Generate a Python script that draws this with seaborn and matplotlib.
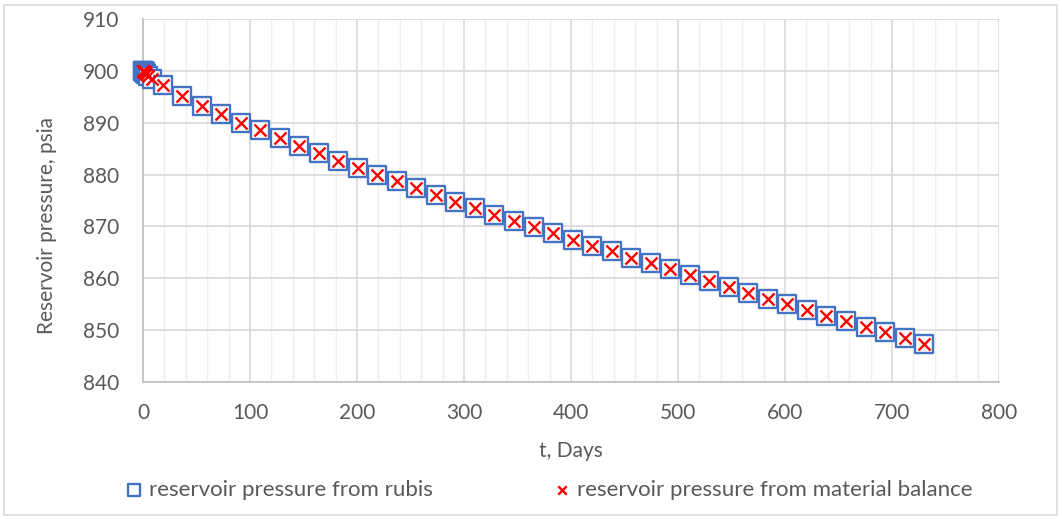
import matplotlib
matplotlib.use("Agg")
import matplotlib.pyplot as plt
import seaborn as sns
import pandas as pd
from matplotlib.ticker import MultipleLocator
from matplotlib.patches import Rectangle

# ---- data ----
t_days = [0, 0.25, 0.5, 1, 1.5, 2, 3, 4.5, 8,
          18.25, 36.5, 54.75, 73, 91.25, 109.5, 127.75, 146, 164.25, 182.5,
          200.75, 219, 237.25, 255.5, 273.75, 292, 310.25, 328.5, 346.75, 365,
          383.25, 401.5, 419.75, 438, 456.25, 474.5, 492.75, 511, 529.25, 547.5,
          565.75, 584, 602.25, 620.5, 638.75, 657, 675.25, 693.5, 711.75, 730]
p_rubis = [900.0, 899.95, 899.9, 899.8, 899.7, 899.6, 899.4, 899.1, 898.4,
           897.3, 895.2, 893.3, 891.6, 890.0, 888.5, 887.0, 885.6, 884.1, 882.7,
           881.3, 880.0, 878.7, 877.4, 876.1, 874.8, 873.5, 872.3, 871.0, 869.8,
           868.7, 867.4, 866.3, 865.2, 864.0, 862.9, 861.7, 860.6, 859.5, 858.3,
           857.2, 856.1, 855.0, 853.9, 852.8, 851.8, 850.7, 849.6, 848.5, 847.4]
p_matbal = [900.0, 899.95, 899.9, 899.8, 899.7, 899.6, 899.4, 899.1, 898.4,
            897.3, 895.2, 893.3, 891.6, 890.0, 888.5, 887.0, 885.6, 884.1, 882.7,
            881.3, 880.0, 878.7, 877.4, 876.1, 874.8, 873.5, 872.3, 871.0, 869.8,
            868.7, 867.4, 866.3, 865.2, 864.0, 862.9, 861.7, 860.6, 859.5, 858.3,
            857.2, 856.1, 855.0, 853.9, 852.8, 851.8, 850.7, 849.6, 848.5, 847.4]
x_ticks = [0, 100, 200, 300, 400, 500, 600, 700, 800]
y_ticks = [840, 850, 860, 870, 880, 890, 900, 910]
label_rubis = "reservoir pressure from rubis"
label_matbal = "reservoir pressure from material balance"

df = pd.DataFrame({"t": t_days, "rubis": p_rubis, "matbal": p_matbal})

sns.set_theme(style="white")
plt.rcParams["font.family"] = ["Lato", "DejaVu Sans"]

W, H = 1062, 519
fig = plt.figure(figsize=(W / 100, H / 100), dpi=100)
ax = fig.add_axes([143 / W, 1 - 382 / H, (999 - 143) / W, (382 - 19) / H])

txt = "#595959"
blue = "#4472C4"

sns.scatterplot(data=df, x="t", y="rubis", ax=ax, marker="s", s=175,
                facecolor="white", edgecolor=blue, linewidth=1.7,
                label=label_rubis, zorder=3, clip_on=False)
sns.scatterplot(data=df, x="t", y="matbal", ax=ax, marker="x", s=75,
                color="#FF0000", linewidth=1.7,
                label=label_matbal, zorder=4, clip_on=False)

ax.set_xlim(0, 800)
ax.set_ylim(840, 910)
ax.set_xticks(x_ticks)
ax.set_yticks(y_ticks)
ax.xaxis.set_minor_locator(MultipleLocator(20))
ax.grid(which="major", axis="both", color="#d9d9d9", linewidth=1.2, zorder=0)
ax.grid(which="minor", axis="x", color="#efefef", linewidth=1.0, zorder=0)
ax.set_axisbelow(True)

for s in ["top", "right"]:
    ax.spines[s].set_visible(False)
for s in ["left", "bottom"]:
    ax.spines[s].set_color("#bfbfbf")
    ax.spines[s].set_linewidth(1.2)

ax.tick_params(axis="both", which="both", length=0, labelsize=15, colors=txt)
ax.tick_params(axis="y", pad=17)
ax.tick_params(axis="x", pad=15)

ax.set_xlabel("t, Days", fontsize=15, color=txt, labelpad=13)
ax.set_ylabel("Reservoir pressure, psia", fontsize=15, color=txt)
ax.yaxis.set_label_coords(-0.1005, 0.43)

ax.get_legend().remove()
handles, labels = ax.get_legend_handles_labels()
ly = 1 - 490 / H
common = dict(frameon=False, fontsize=16, markerscale=0.7, handletextpad=0.3,
              handlelength=0.8, borderpad=0, borderaxespad=0, labelcolor=txt)
leg1 = fig.legend([handles[0]], [labels[0]], loc="center left",
                  bbox_to_anchor=(125 / W, ly), **common)
leg2 = fig.legend([handles[1]], [labels[1]], loc="center left",
                  bbox_to_anchor=(553 / W, ly), **common)

fig.patches.append(Rectangle((4 / W, 4 / H), 1 - 9 / W, 1 - 9 / H,
                             transform=fig.transFigure, fill=False,
                             edgecolor="#d9d9d9", linewidth=1.2))

fig.savefig("out.png", dpi=100)
